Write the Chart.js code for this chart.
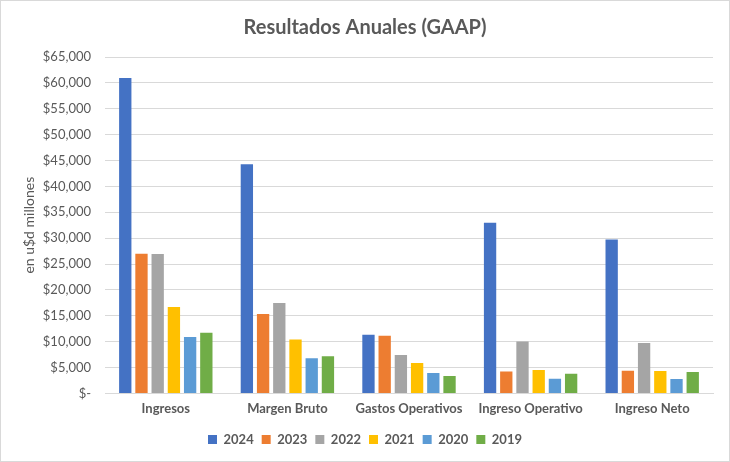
<!DOCTYPE html>
<html>
<head>
<meta charset="utf-8">
<script src="https://cdn.jsdelivr.net/npm/chart.js@4"></script>
<style>
html,body{margin:0;padding:0;background:#fff;}
#wrap{position:relative;width:730px;height:462px;box-sizing:border-box;border:1px solid #d9d9d9;}
canvas{display:block;}
</style>
</head>
<body>
<div id="wrap"><canvas id="c" width="728" height="460"></canvas></div>
<script>
const categories = ["Ingresos", "Margen Bruto", "Gastos Operativos", "Ingreso Operativo", "Ingreso Neto"];
const seriesNames = ["2024", "2023", "2022", "2021", "2020", "2019"];
const v2024 = [60922, 44301, 11329, 32972, 29760];
const v2023 = [26974, 15356, 11132, 4224, 4368];
const v2022 = [26914, 17475, 7434, 10041, 9752];
const v2021 = [16675, 10396, 5864, 4532, 4332];
const v2020 = [10918, 6768, 3922, 2846, 2796];
const v2019 = [11716, 7171, 3367, 3804, 4141];
const seriesValues = [v2024, v2023, v2022, v2021, v2020, v2019];
const colors = ["#4472C4", "#ED7D31", "#A5A5A5", "#FFC000", "#5B9BD5", "#70AD47"];

const FONT = "Lato, 'Open Sans', sans-serif";
Chart.defaults.font.family = FONT;
Chart.defaults.color = "#595959";

new Chart(document.getElementById("c"), {
  type: "bar",
  data: {
    labels: categories,
    datasets: seriesNames.map((n, i) => ({
      label: n,
      data: seriesValues[i],
      backgroundColor: colors[i],
      borderWidth: 0,
      categoryPercentage: 0.8,
      barPercentage: 0.76
    }))
  },
  options: {
    responsive: false,
    animation: false,
    layout: { padding: { left: 16, right: 16, top: 6, bottom: 5 } },
    plugins: {
      title: {
        display: true,
        text: "Resultados Anuales (GAAP)",
        font: { size: 20, weight: "bold", family: FONT },
        color: "#595959",
        padding: { top: 9, bottom: 17 }
      },
      legend: {
        position: "bottom",
        labels: {
          boxWidth: 9, boxHeight: 9,
          font: { size: 13, weight: "bold", family: FONT },
          color: "#595959",
          padding: 8
        }
      },
      tooltip: { enabled: false }
    },
    scales: {
      x: {
        grid: { display: false, drawTicks: false },
        border: { display: true, color: "#d9d9d9" },
        ticks: { font: { size: 13, weight: "bold", family: FONT }, color: "#595959", padding: 8 }
      },
      y: {
        min: 0, max: 65000,
        ticks: {
          stepSize: 5000,
          padding: 14,
          font: { size: 13, family: FONT },
          color: "#595959",
          callback: (v) => v === 0 ? "$-" : "$" + v.toLocaleString("en-US")
        },
        grid: { color: "#d9d9d9", drawTicks: false },
        border: { display: false },
        title: {
          display: true,
          text: "en u$d millones",
          font: { size: 14, family: FONT },
          color: "#595959",
          padding: { bottom: 4 }
        },
        afterFit: (s) => { s.width = 88; }
      }
    }
  }
});
</script>
</body>
</html>
